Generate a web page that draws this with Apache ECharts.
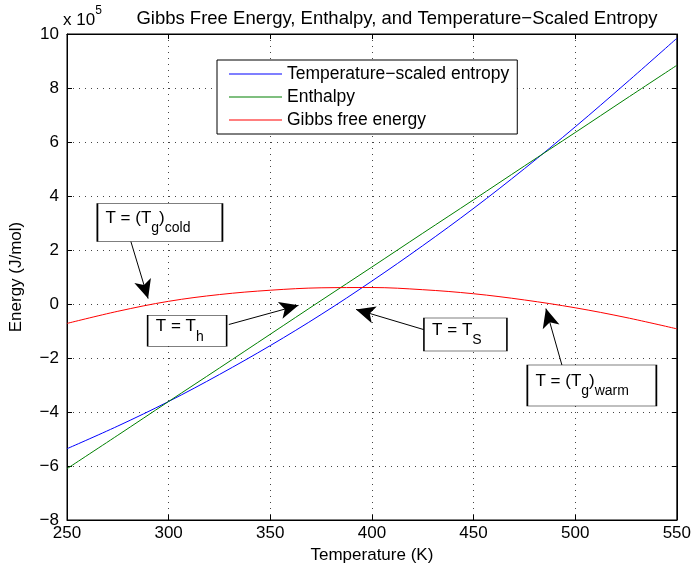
<!DOCTYPE html>
<html>
<head>
<meta charset="utf-8">
<title>Gibbs Free Energy</title>
<script src="https://cdn.jsdelivr.net/npm/echarts@6/dist/echarts.min.js"></script>
<style>
  html, body { margin: 0; padding: 0; background: #fff; }
  #chart { width: 694px; height: 569px; }
</style>
</head>
<body>
<div id="chart"></div>
<script>
// temperatures (K) and energies in units of 1e5 J/mol
var temps = [250, 275, 300, 325, 350, 375, 400, 425, 450, 475, 500, 525, 550]
var entropyTS = [-5.36, -4.52, -3.61, -2.61, -1.54, -0.39, 0.85, 2.16, 3.54, 5.01, 6.56, 8.18, 9.84]
var enthalpy = [-6.10, -4.86, -3.61, -2.37, -1.12, 0.13, 1.37, 2.62, 3.86, 5.11, 6.35, 7.60, 8.84]
var gibbs = [-0.72, -0.27, 0.10, 0.35, 0.51, 0.60, 0.61, 0.53, 0.38, 0.15, -0.14, -0.50, -0.92]

var seriesNames = ['Temperature\u2212scaled entropy', 'Enthalpy', 'Gibbs free energy']
var seriesColors = ['#0000ff', '#008000', '#ff0000']

// annotation text boxes: [x, y] centre in data units, label, box size
var notes = [
  { at: [295.7, 3.02], text: '{a|T = (T}{s|g}{a|)}{s|cold}', size: [125, 38] },
  { at: [309.1, -0.99], text: '{a|T = T}{s|h}', size: [79, 31] },
  { at: [446.0, -1.13], text: '{a|T = T}{s|S}', size: [83, 33] },
  { at: [508.2, -3.02], text: '{a|T = (T}{s|g}{a|)}{s|warm}', size: [129, 41] }
]
// arrows: from [x, y] to [x, y]
var arrows = [
  [[281.4, 2.32], [289.9, 0.20]],
  [[329.6, -0.76], [363.9, -0.05]],
  [[425.6, -0.95], [392.2, -0.20]],
  [[493.5, -2.27], [485.6, -0.17]]
]

function pairs (ys) {
  return temps.map(function (t, i) { return [t, ys[i]] })
}

var font = 'Liberation Sans, Arial, Helvetica, sans-serif'
var chart = echarts.init(document.getElementById('chart'))

var lineSeries = [entropyTS, enthalpy, gibbs].map(function (ys, i) {
  return {
    name: seriesNames[i],
    type: 'line',
    data: pairs(ys),
    smooth: 0.35,
    showSymbol: false,
    symbol: 'none',
    lineStyle: { color: seriesColors[i], width: 1 },
    itemStyle: { color: seriesColors[i] },
    z: 3
  }
})

var noteSeries = {
  name: 'notes',
  type: 'scatter',
  data: [],
  silent: true,
  z: 5,
  markLine: {
    silent: true,
    symbol: ['none', 'arrow'],
    symbolSize: [13, 19],
    label: { show: false },
    lineStyle: { color: '#000', width: 1, type: 'solid' },
    data: arrows.map(function (a) {
      return [{ coord: a[0] }, { coord: a[1] }]
    })
  },
  markPoint: {
    silent: true,
    symbol: 'rect',
    itemStyle: { color: '#fff', borderColor: '#000', borderWidth: 1 },
    label: {
      show: true,
      position: 'insideLeft',
      distance: 9,
      color: '#000',
      rich: {
        a: { fontFamily: font, fontSize: 17, lineHeight: 26, verticalAlign: 'top' },
        s: { fontFamily: font, fontSize: 14, lineHeight: 26, verticalAlign: 'bottom', padding: [11, 0, 0, 0] }
      }
    },
    data: notes.map(function (n) {
      return {
        coord: n.at,
        symbolSize: n.size,
        label: { formatter: n.text }
      }
    })
  }
}

function minus (v) {
  return String(v).replace('-', '\u2212')
}

chart.setOption({
  backgroundColor: '#fff',
  animation: false,
  title: {
    text: 'Gibbs Free Energy, Enthalpy, and Temperature\u2212Scaled Entropy',
    left: 392,
    textAlign: 'center',
    top: 4,
    textStyle: { fontFamily: font, fontSize: 18.5, fontWeight: 'normal', color: '#000' }
  },
  legend: {
    orient: 'vertical',
    left: 217,
    top: 60,
    data: seriesNames,
    icon: 'rect',
    itemWidth: 53,
    itemHeight: 1,
    itemGap: 5,
    padding: [5, 8, 5, 12],
    backgroundColor: '#fff',
    borderColor: '#000',
    borderWidth: 1,
    textStyle: { fontFamily: font, fontSize: 17.5, color: '#000' }
  },
  graphic: [{
    type: 'text',
    left: 63,
    top: 5,
    style: {
      text: '{a|x 10}{b|5}',
      rich: {
        a: { fontFamily: font, fontSize: 17, fill: '#000', verticalAlign: 'bottom', lineHeight: 24 },
        b: { fontFamily: font, fontSize: 12, fill: '#000', verticalAlign: 'top', lineHeight: 24 }
      }
    }
  }],
  grid: {
    left: 66,
    right: 16,
    top: 34,
    bottom: 49,
    show: true,
    borderColor: '#000',
    borderWidth: 1,
    backgroundColor: '#fff'
  },
  xAxis: [{
    type: 'value',
    min: 250,
    max: 550,
    interval: 50,
    name: 'Temperature (K)',
    nameLocation: 'middle',
    nameGap: 27,
    nameTextStyle: { fontFamily: font, fontSize: 17, color: '#000' },
    axisLine: { onZero: false, lineStyle: { color: '#000' } },
    axisTick: { inside: true, length: 5, lineStyle: { color: '#000' } },
    axisLabel: { fontFamily: font, fontSize: 17, color: '#000', margin: 5 },
    splitLine: { show: true, lineStyle: { color: '#444', type: [1, 5] } }
  }, {
    type: 'value',
    position: 'top',
    min: 250,
    max: 550,
    interval: 50,
    axisLine: { show: true, onZero: false, lineStyle: { color: '#000' } },
    axisTick: { inside: true, length: 5, lineStyle: { color: '#000' } },
    axisLabel: { show: false },
    splitLine: { show: false }
  }],
  yAxis: [{
    type: 'value',
    min: -8,
    max: 10,
    interval: 2,
    name: 'Energy (J/mol)',
    nameLocation: 'middle',
    nameGap: 42,
    nameTextStyle: { fontFamily: font, fontSize: 17, color: '#000' },
    axisLine: { show: true, onZero: false, lineStyle: { color: '#000' } },
    axisTick: { show: true, inside: true, length: 5, lineStyle: { color: '#000' } },
    axisLabel: { fontFamily: font, fontSize: 17, color: '#000', margin: 8, formatter: minus },
    splitLine: { show: true, lineStyle: { color: '#444', type: [1, 5] } }
  }, {
    type: 'value',
    position: 'right',
    min: -8,
    max: 10,
    interval: 2,
    axisLine: { show: true, onZero: false, lineStyle: { color: '#000' } },
    axisTick: { show: true, inside: true, length: 5, lineStyle: { color: '#000' } },
    axisLabel: { show: false },
    splitLine: { show: false }
  }],
  series: lineSeries.concat([noteSeries])
})
</script>
</body>
</html>
